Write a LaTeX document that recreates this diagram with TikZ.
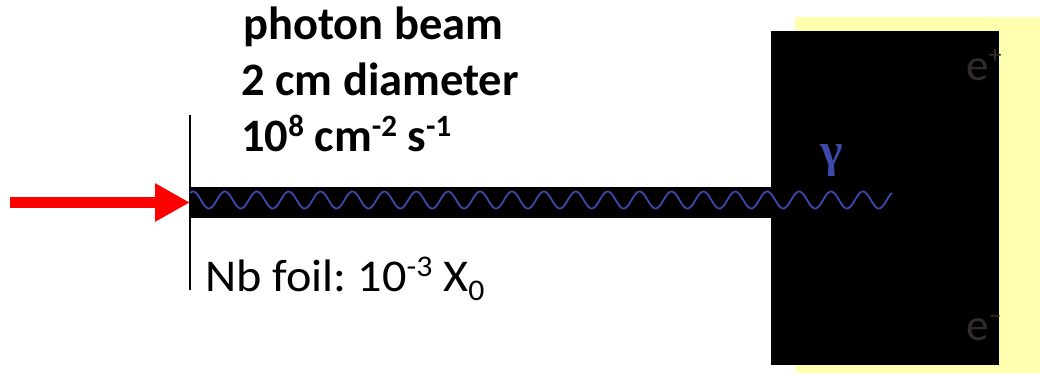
\documentclass[tikz,border=0pt]{standalone}
\usepackage{fontspec}
\setmainfont{Carlito}
\newfontfamily\serifg{Liberation Serif}
\usetikzlibrary{arrows.meta}
\definecolor{padyellow}{RGB}{255,255,176}
\definecolor{wavecol}{RGB}{60,72,170}
\definecolor{echarge}{RGB}{48,44,44}
\definecolor{arrowred}{RGB}{255,0,0}
\begin{document}
\frenchspacing
\begin{tikzpicture}[x=1pt,y=-1pt,
  txt/.style={inner sep=0pt, anchor=base west},
  boldtxt/.style={txt, font=\fontsize{46.5}{55}\selectfont\bfseries},
  foiltxt/.style={txt, font=\fontsize{45.5}{50}\selectfont},
  chargetxt/.style={txt, text=echarge, font=\fontsize{45}{45}\selectfont},
  blackblock/.style={fill=black, inner sep=0pt, draw=none},
  redarrow/.style={arrowred, line width=11pt, -{Triangle[length=35pt,width=36pt]}},
  photon/.style={wavecol, line width=1.8pt}]
\useasboundingbox (0,0) rectangle (1040,375);
% yellow pad behind detector
\fill[padyellow] (795,17) rectangle (1040,373);
% detector block
\node[blackblock, anchor=north west, minimum width=228pt, minimum height=334pt] (det) at (771,31) {};
% beam band
\node[blackblock, anchor=west, minimum width=581pt, minimum height=31pt] (beam) at (190,202.5) {};
% foil
\coordinate (foiltop) at (190,115);
\coordinate (foilbot) at (190,290);
\draw[line width=1.6pt] (foiltop) -- (foilbot);
% incoming arrow
\coordinate (arrstart) at (10,202.5);
\draw[redarrow] (arrstart) -- (beam.west);
% photon wave
\draw[photon] plot[domain=190:892, samples=600, smooth] (\x,{200-8.5*cos(11.2853*(\x-193))});
\node[text=wavecol, inner sep=0pt, font=\serifg\bfseries\fontsize{48}{48}\selectfont] (gam) at (832,161) {γ};
% texts
\node[boldtxt] (l1) at (243,39) {photon beam};
\node[boldtxt] (l2) at (241,95) {2 cm diameter};
\node[boldtxt] (l3) at (241,151) {10\raisebox{15pt}{\fontsize{31}{31}\selectfont 8} cm\raisebox{15pt}{\fontsize{31}{31}\selectfont -2} s\raisebox{15pt}{\fontsize{31}{31}\selectfont -1}};
\node[foiltxt] (nb) at (205,291) {\scalebox{1.06}[1]{Nb foil: 10\raisebox{15pt}{\fontsize{30}{30}\selectfont -3} X\raisebox{-9pt}{\fontsize{30}{30}\selectfont 0}}};
\node[chargetxt] (ep) at (966,80) {e\raisebox{17pt}{\fontsize{26}{26}\selectfont +}};
\node[chargetxt] (em) at (966,340) {e\raisebox{17pt}{\fontsize{26}{26}\selectfont –}};
\end{tikzpicture}
\end{document}
